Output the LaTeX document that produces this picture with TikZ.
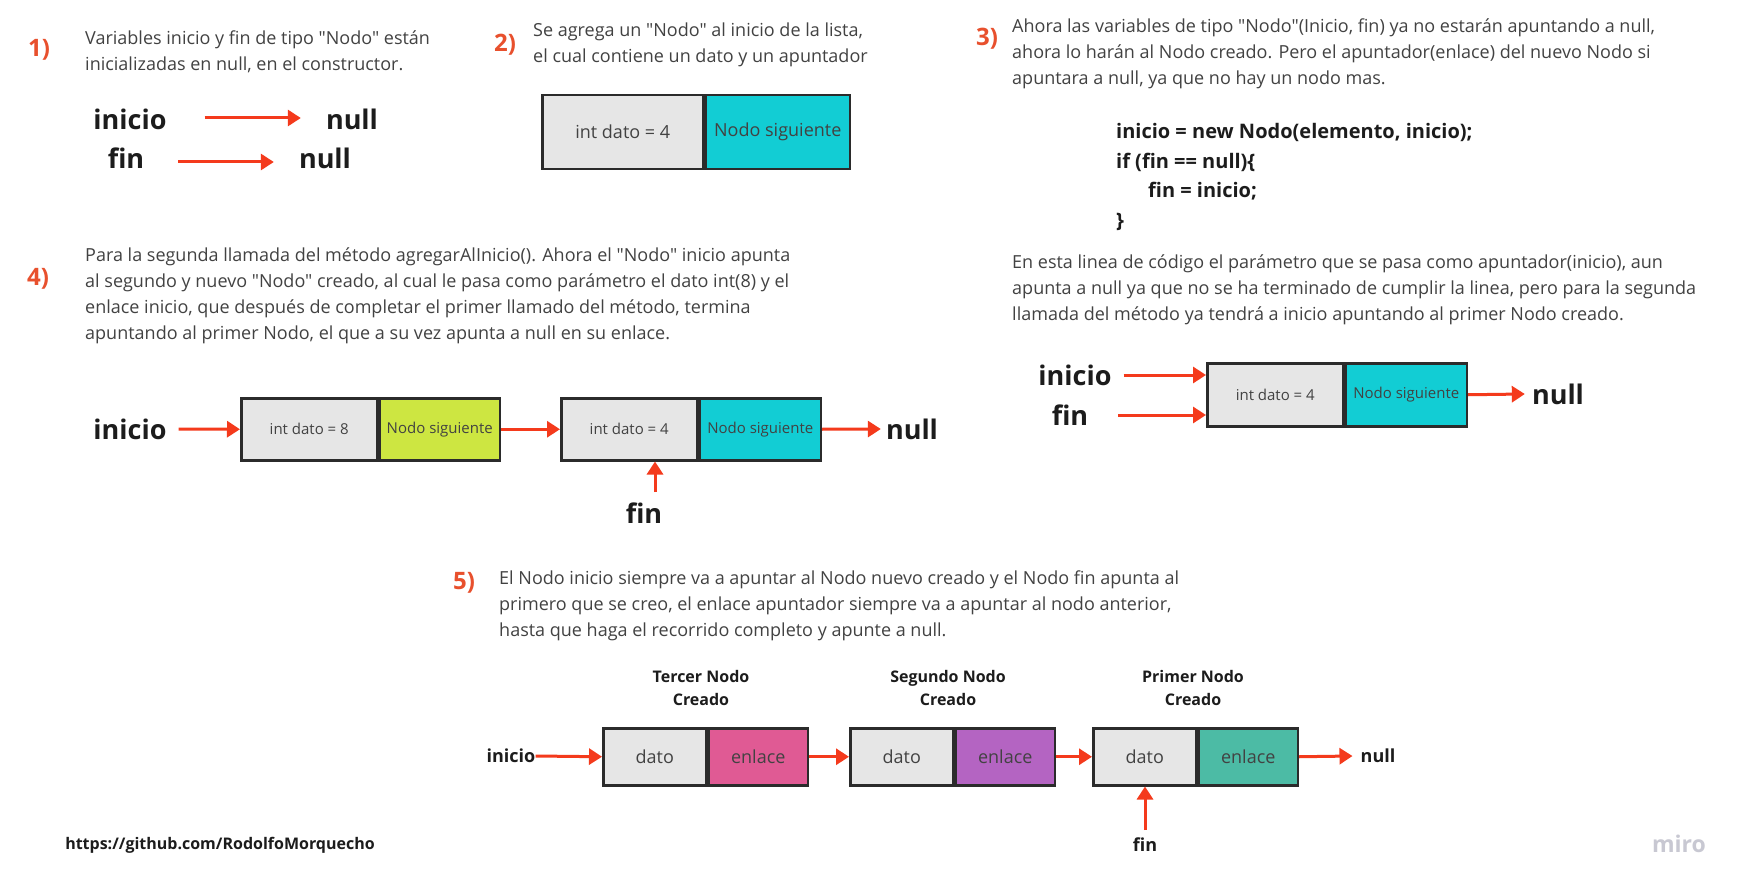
\documentclass[tikz,border=0pt]{standalone}
\usepackage{fontspec}
\setmainfont{Open Sans}[Ligatures=TeXOff]
\usetikzlibrary{arrows.meta}

\definecolor{numred}{RGB}{232,80,45}
\definecolor{arrred}{RGB}{244,58,28}
\definecolor{bodygray}{RGB}{66,66,66}
\definecolor{inkdark}{RGB}{28,28,28}
\definecolor{cellgray}{RGB}{230,230,230}
\definecolor{cellline}{RGB}{43,43,43}
\definecolor{linkcyan}{RGB}{18,205,212}
\definecolor{linklime}{RGB}{205,230,65}
\definecolor{linkpink}{RGB}{224,90,148}
\definecolor{linkpurple}{RGB}{180,100,194}
\definecolor{linkteal}{RGB}{76,187,165}
\definecolor{mirogray}{RGB}{200,200,210}

% multi-line text: the base anchor sits on the last line
\tikzset{
  para/.style={anchor=base west, align=left, inner sep=0pt, text=bodygray,
    font=\fontsize{18}{26}\selectfont},
  codeblk/.style={anchor=base west, align=left, inner sep=0pt, text=inkdark,
    font=\fontsize{20}{29.5}\selectfont\bfseries},
  stepnum/.style={inner sep=0pt, text=numred, font=\fontsize{24}{24}\selectfont\bfseries},
  varbig/.style={inner sep=0pt, text=inkdark, font=\fontsize{27}{27}\selectfont\bfseries},
  varsmall/.style={inner sep=0pt, text=inkdark, font=\fontsize{18}{18}\selectfont\bfseries},
  capt/.style={inner sep=0pt, align=center, text=inkdark, font=\fontsize{16}{23}\selectfont\bfseries},
  cell/.style={draw=cellline, line width=2.5pt, inner sep=0pt, anchor=north west, text=bodygray},
  datcell/.style={cell, fill=cellgray},
  arr/.style={draw=arrred, line width=3pt, -{Triangle[length=13pt,width=16pt]}},
}

\begin{document}
\begin{tikzpicture}[x=1pt,y=-1pt]
		\useasboundingbox (0,0) rectangle (1748,893);
		\fill[white] (0,0) rectangle (1748,893);
		
		%%%%% 1) %%%%%
		\node[stepnum] (n1) at (39,50) {1)};
		\node[para] (t1) at (85,71) {Variables inicio y fin de tipo "Nodo" están\\inicializadas en null, en el constructor.};
		\node[varbig] (ini1) at (130,119) {inicio};
		\node[varbig] (nul1a) at (352,119) {null};
		\node[varbig] (fin1) at (126,158) {fin};
		\node[varbig] (nul1b) at (325,158) {null};
		\draw[arr] ([shift={(38,-1)}]ini1.east) -- ([shift={(-25,-1)}]nul1a.west);
		\draw[arr] ([shift={(34,4)}]fin1.east) -- ([shift={(-25,4)}]nul1b.west);
		
		%%%%% 2) %%%%%
		\node[stepnum] (n2) at (505,45) {2)};
		\node[para] (t2) at (533,63) {Se agrega un "Nodo" al inicio de la lista,\\el cual contiene un dato y un apuntador};
		\node[datcell, minimum width=161, minimum height=74, font=\fontsize{18}{18}\selectfont] (dat2) at (541,94) {int dato = 4};
		\node[cell, fill=linkcyan, minimum width=144, minimum height=74, font=\fontsize{18}{18}\selectfont] (sig2) at (dat2.north east) {Nodo siguiente};
		
		%%%%% 3) %%%%%
		\node[stepnum] (n3) at (987,39) {3)};
		\node[para] (t3a) at (1012,85) {Ahora las variables de tipo "Nodo"(Inicio, fin) ya no estarán apuntando a null,\\ahora lo harán al Nodo creado. Pero el apuntador(enlace) del nuevo Nodo si\\apuntara a null, ya que no hay un nodo mas.};
		\node[codeblk] (code3) at (1116,227.5) {inicio = new Nodo(elemento, inicio);\\if (fin == null)\{\\\hspace*{32pt}fin = inicio;\\\}};
		\node[para] (t3b) at (1012,320) {En esta linea de código el parámetro que se pasa como apuntador(inicio), aun\\apunta a null ya que no se ha terminado de cumplir la linea, pero para la segunda\\llamada del método ya tendrá a inicio apuntando al primer Nodo creado.};
		\node[datcell, minimum width=136, minimum height=63, font=\fontsize{15}{15}\selectfont] (dat3) at (1206,362) {int dato = 4};
		\node[cell, fill=linkcyan, minimum width=121, minimum height=63, font=\fontsize{15}{15}\selectfont] (sig3) at (dat3.north east) {Nodo siguiente};
		\node[varbig] (ini3) at (1075,375) {inicio};
		\node[varbig] (fin3) at (1070,415) {fin};
		\node[varbig] (nul3) at (1558,394) {null};
		\draw[arr] ([xshift=12pt]ini3.east) -- (dat3.west |- ini3.east);
		\draw[arr] ([xshift=30pt]fin3.east) -- (dat3.west |- fin3.east);
		\draw[arr] (sig3.east) -- ([xshift=-7pt]nul3.west);
		
		%%%%% 4) %%%%%
		\node[stepnum] (n4) at (38,279) {4)};
		\node[para] (t4) at (85,339) {Para la segunda llamada del método agregarAlInicio(). Ahora el "Nodo" inicio apunta\\al segundo y nuevo "Nodo" creado, al cual le pasa como parámetro el dato int(8) y el\\enlace inicio, que después de completar el primer llamado del método, termina\\apuntando al primer Nodo, el que a su vez apunta a null en su enlace.};
		\node[datcell, minimum width=136, minimum height=62, font=\fontsize{15}{15}\selectfont] (dat4a) at (240,397) {int dato = 8};
		\node[cell, fill=linklime, minimum width=120, minimum height=62, font=\fontsize{15}{15}\selectfont] (sig4a) at (dat4a.north east) {Nodo siguiente};
		\node[datcell, minimum width=136, minimum height=62, font=\fontsize{15}{15}\selectfont] (dat4b) at (560,397) {int dato = 4};
		\node[cell, fill=linkcyan, minimum width=121, minimum height=62, font=\fontsize{15}{15}\selectfont] (sig4b) at (dat4b.north east) {Nodo siguiente};
		\node[varbig] (ini4) at (130,429) {inicio};
		\node[varbig] (nul4) at (912,429) {null};
		\node[varbig] (fin4) at (644,513) {fin};
		\draw[arr] ([xshift=12pt]ini4.east) -- (dat4a.west);
		\draw[arr] (sig4a.east) -- (dat4b.west);
		\draw[arr] (sig4b.east) -- ([xshift=-5pt]nul4.west);
		\coordinate (fint4) at (655,492);
		\draw[arr] (fint4) -- (fint4 |- dat4b.south);
		
		%%%%% 5) %%%%%
		\node[stepnum] (n5) at (464,583) {5)};
		\node[para] (t5) at (499,636) {El Nodo inicio siempre va a apuntar al Nodo nuevo creado y el Nodo fin apunta al\\primero que se creo, el enlace apuntador siempre va a apuntar al nodo anterior,\\hasta que haga el recorrido completo y apunte a null.};
		\node[capt] (capA) at (701,688) {Tercer Nodo\\Creado};
		\node[capt] (capB) at (948,688) {Segundo Nodo\\Creado};
		\node[capt] (capC) at (1193,688) {Primer Nodo\\Creado};
		\node[datcell, minimum width=103, minimum height=57, font=\fontsize{18}{18}\selectfont] (datA) at (602,727) {dato};
		\node[cell, fill=linkpink, minimum width=99, minimum height=57, font=\fontsize{18}{18}\selectfont] (enlA) at (datA.north east) {enlace};
		\node[datcell, minimum width=103, minimum height=57, font=\fontsize{18}{18}\selectfont] (datB) at (849,727) {dato};
		\node[cell, fill=linkpurple, minimum width=99, minimum height=57, font=\fontsize{18}{18}\selectfont] (enlB) at (datB.north east) {enlace};
		\node[datcell, minimum width=103, minimum height=57, font=\fontsize{18}{18}\selectfont] (datC) at (1092,727) {dato};
		\node[cell, fill=linkteal, minimum width=99, minimum height=57, font=\fontsize{18}{18}\selectfont] (enlC) at (datC.north east) {enlace};
		\node[varsmall] (ini5) at (511,756) {inicio};
		\node[varsmall] (nul5) at (1378,756) {null};
		\node[varsmall] (fin5) at (1145,845) {fin};
		\draw[arr] (ini5.east) -- (datA.west);
		\draw[arr] (enlA.east) -- (datB.west);
		\draw[arr] (enlB.east) -- (datC.west);
		\draw[arr] (enlC.east) -- ([xshift=-8pt]nul5.west);
		\coordinate (fint5) at (1145,830);
		\draw[arr] (fint5) -- (fint5 |- datC.south);
		
		%%%%% footer %%%%%
		\node[inner sep=0pt, text=inkdark, font=\fontsize{16}{16}\selectfont\bfseries] (url) at (220,845) {https://github.com/RodolfoMorquecho};
		\node[inner sep=0pt, text=mirogray, font=\fontsize{23}{23}\selectfont\bfseries] (miro) at (1679,844) {miro};
	\end{tikzpicture}
\end{document}
